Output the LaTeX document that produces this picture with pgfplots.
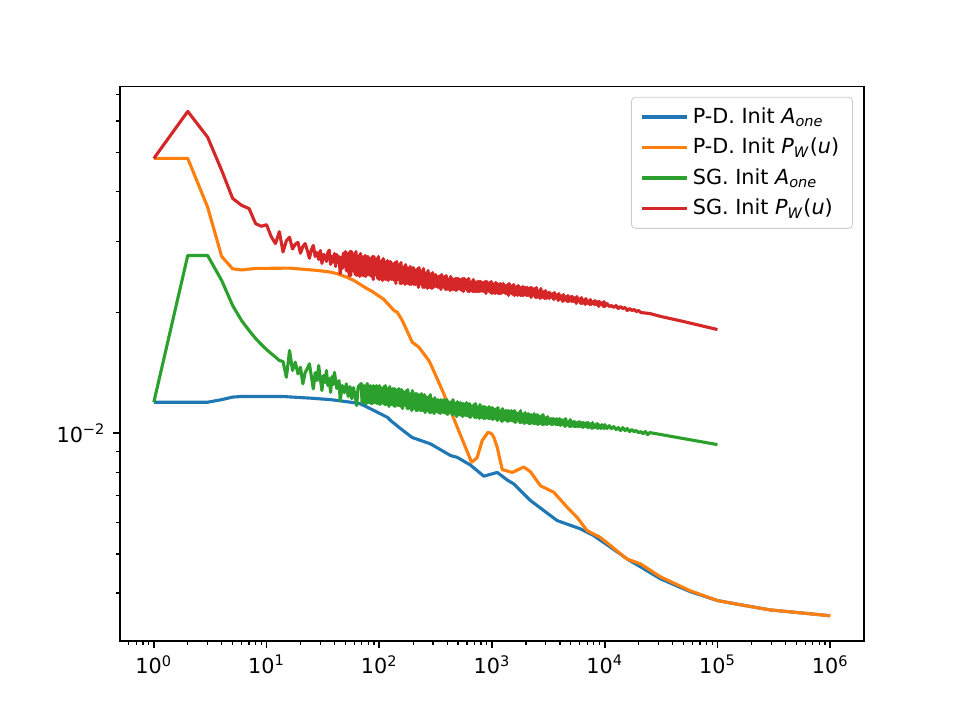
\documentclass[border=0pt]{standalone}
\usepackage{fontspec}
\setmainfont{DejaVu Sans}
\usepackage{pgfplots}
\usepackage{pgfplotstable}
\pgfplotsset{compat=1.18}

\definecolor{tabblue}{HTML}{1F77B4}
\definecolor{taborange}{HTML}{FF7F0E}
\definecolor{tabgreen}{HTML}{2CA02C}
\definecolor{tabred}{HTML}{D62728}

% P-D. initialised with A_one
\pgfplotstableread{
x y
1 0.01195
2 0.01195
3 0.01195
4 0.01213
5 0.01231
6 0.01235
9 0.01235
14 0.01235
25 0.01223
37 0.01213
56 0.01195
68 0.01184
84 0.01150
118 0.01096
126 0.01076
154.5 0.010274
196 0.00976
285 0.00941
429 0.00880
492 0.00871
645 0.00833
846 0.00782
1112 0.00799
1365 0.00765
1561 0.00748
2193 0.00680
3784 0.00606
6081 0.00578
7980 0.00556
13770 0.00500
15780 0.00486
20700 0.00465
31120 0.00434
57410 0.00403
100000 0.00383
158500 0.00374
293800 0.00363
542000 0.00357
1000000 0.00351
}\pdaone

% P-D. initialised with P_W(u)
\pgfplotstableread{
x y
1 0.04842
2 0.04842
3 0.03662
4 0.02758
5 0.02570
6 0.02553
8 0.02575
16 0.02580
28.2 0.02546
37 0.02521
42.5 0.02498
52.1 0.02445
59.6 0.02403
78.3 0.02291
84 0.02269
103 0.02183
110 0.02155
135 0.02023
144.5 0.02003
160 0.01910
196 0.01687
224.6 0.01639
275 0.01518
285 0.01490
374 0.01254
492 0.01035
597 0.00906
658 0.00847
706 0.00860
739 0.00871
818 0.00959
922 0.01006
990 0.00998
1038 0.00977
1112 0.00923
1232 0.00812
1511 0.00799
1914 0.00824
2193 0.00802
2692 0.00740
3532 0.00713
4643 0.00654
5690 0.00617
6982 0.00572
9160 0.00550
15780 0.00486
20700 0.00473
31120 0.00439
57410 0.00405
100000 0.00383
158500 0.00374
293800 0.00363
542000 0.00357
1000000 0.00351
}\pdpw

% SG. initialised with A_one
\pgfplotstableread{
x y
1 0.01195
2 0.02774
3 0.02774
4 0.02403
5 0.02082
6 0.01910
7 0.01804
8 0.01723
9 0.01664
10 0.01617
11 0.01580
12 0.01549
13 0.01518
14 0.01510
15 0.01379
16 0.01608
17 0.01434
18 0.01504
19 0.01406
20 0.01461
21 0.01328
22 0.01417
23 0.01450
24 0.01490
25 0.01385
26 0.01290
27 0.01417
28 0.01353
29 0.01475
30 0.01369
31 0.01278
32 0.01393
33 0.01338
34 0.01434
35 0.01315
36 0.01369
37 0.01265
38 0.01385
39 0.01323
40 0.01419
42 0.01293
44 0.01353
45 0.01206
47 0.01315
49 0.01263
51 0.01328
53 0.01235
55 0.01307
57 0.01220
59 0.01300
61 0.01242
63 0.01172
65 0.01307
69.2 0.013303
70.3 0.011928
71.3 0.013151
72.4 0.011928
73.6 0.013151
74.7 0.011860
75.9 0.013076
77.1 0.011860
78.2 0.013303
79.4 0.011928
80.7 0.013001
81.9 0.011928
83.2 0.013151
84.5 0.011860
85.8 0.013076
87.1 0.011860
88.5 0.013151
89.8 0.011928
91.2 0.013001
92.6 0.011928
94.1 0.013151
95.5 0.011860
97.0 0.013076
98.5 0.011860
100 0.013151
101.7 0.011792
103.3 0.013001
105 0.011928
106.7 0.012926
108.3 0.011860
110 0.013076
111.7 0.011792
113.3 0.013151
115 0.011792
116.7 0.012926
118.3 0.011928
120 0.012926
122 0.011657
124 0.013076
126 0.011792
128 0.012706
130 0.011792
132 0.012926
134 0.011724
136 0.012926
138 0.011657
140.3 0.012852
142.7 0.011792
145 0.012706
147 0.011724
149 0.012926
151 0.011724
153.3 0.012779
155.7 0.011657
158 0.012852
160.7 0.011524
163.3 0.012706
166 0.011724
168.7 0.012561
171.3 0.011724
174 0.012779
176.7 0.011524
179.3 0.012852
182 0.011524
185 0.012561
188 0.011724
191 0.012561
194 0.011392
197 0.012779
200 0.011524
203 0.012346
206 0.011524
209 0.012561
212.3 0.011392
215.7 0.012561
219 0.011392
222.3 0.012489
225.7 0.011524
229 0.012346
232.7 0.011392
236.3 0.012561
240 0.011392
243.7 0.012346
247.3 0.011392
251 0.012489
255 0.011262
259 0.012346
263 0.011392
267 0.012135
271 0.011392
275 0.012346
279.3 0.011262
283.7 0.012489
288 0.011262
292.7 0.012205
297.3 0.011392
302 0.012066
306.7 0.011198
311.3 0.012275
316 0.011327
321 0.011997
326 0.011327
331 0.012135
336.3 0.011262
341.7 0.012066
347 0.011198
352.3 0.012135
357.7 0.011327
363 0.011997
368.7 0.011262
374.3 0.012135
380 0.011262
386 0.011997
392 0.011198
398 0.012135
404.3 0.011133
410.7 0.011997
417 0.011262
423.7 0.011860
430.3 0.011262
437 0.011997
443.7 0.011133
450.3 0.012135
457 0.011133
464.3 0.011928
471.7 0.011262
479 0.011860
486.3 0.011006
493.7 0.011997
501 0.011133
509 0.011724
517 0.011133
525 0.011928
533.3 0.011070
541.7 0.011860
550 0.011006
558.3 0.011860
566.7 0.011133
575 0.011724
584.3 0.011070
593.7 0.011928
603 0.011070
612.3 0.011792
621.7 0.011006
631 0.011860
641 0.010943
651 0.011724
661 0.011070
671.3 0.011657
681.7 0.011070
692 0.011792
702.7 0.010943
713.3 0.011860
724 0.010943
735.7 0.011657
747.3 0.011070
759 0.011657
770.7 0.010881
782.3 0.011792
794 0.010943
806.7 0.011524
819.3 0.010943
832 0.011657
845 0.010881
858 0.011657
871 0.010881
884.7 0.011591
898.3 0.010943
912 0.011524
926.3 0.010881
940.7 0.011657
955 0.010881
970 0.011524
985 0.010881
1000 0.011591
1016 0.010818
1031 0.011524
1047 0.010881
1063 0.011392
1080 0.010881
1096 0.011524
1113 0.010757
1131 0.011591
1148 0.010818
1166 0.011392
1184 0.010881
1202 0.011392
1221 0.010695
1240 0.011524
1259 0.010757
1279 0.011262
1298 0.010818
1318 0.011392
1339 0.010757
1359 0.011392
1380 0.010695
1402 0.011392
1423 0.010757
1445 0.011262
1468 0.010757
1491 0.011392
1514 0.010757
1538 0.011262
1561 0.010695
1585 0.011392
1610 0.010634
1635 0.011262
1660 0.010757
1686 0.011133
1712 0.010757
1738 0.011262
1765 0.010634
1793 0.011392
1820 0.010634
1848 0.011198
1877 0.010757
1905 0.011133
1935 0.010573
1965 0.011262
1995 0.010634
2026 0.011070
2058 0.010634
2089 0.011198
2122 0.010573
2155 0.011133
2188 0.010573
2222 0.011133
2257 0.010634
2291 0.011070
2327 0.010573
2363 0.011198
2399 0.010573
2437 0.011070
2474 0.010573
2512 0.011133
2551 0.010513
2591 0.011070
2630 0.010573
2671 0.010943
2713 0.010573
2754 0.011070
2797 0.010513
2841 0.011133
2884 0.010513
2929 0.010943
2975 0.010573
3020 0.010943
3067 0.010513
3115 0.011006
3162 0.010573
3212 0.010818
3261 0.010573
3311 0.010881
3363 0.010513
3415 0.010881
3467 0.010513
3522 0.010881
3576 0.010573
3631 0.010818
3688 0.010513
3745 0.010881
3802 0.010513
3862 0.010818
3921 0.010513
3981 0.010881
4044 0.010452
4106 0.010818
4169 0.010513
4234 0.010695
4300 0.010513
4365 0.010818
4434 0.010393
4502 0.010881
4571 0.010452
4643 0.010695
4714 0.010513
4786 0.010695
4861 0.010393
4937 0.010818
5012 0.010393
5091 0.010634
5169 0.010452
5248 0.010695
5330 0.010393
5413 0.010695
5495 0.010393
5581 0.010634
5668 0.010393
5754 0.010634
5845 0.010393
5935 0.010695
6026 0.010393
6121 0.010634
6215 0.010393
6310 0.010634
6409 0.010333
6508 0.010634
6607 0.010393
6711 0.010573
6814 0.010393
6918 0.010634
7027 0.010333
7135 0.010634
7244 0.010333
7358 0.010513
7472 0.010393
7586 0.010573
7705 0.010274
7824 0.010634
7943 0.010333
8068 0.010452
8193 0.010333
8318 0.010513
8449 0.010333
8579 0.010573
8710 0.010274
8847 0.010513
8983 0.010333
9120 0.010452
9263 0.010274
9407 0.010513
9550 0.010333
9700 0.010452
9850 0.010274
10000 0.010513
10470 0.010274
10960 0.010452
11480 0.010274
12020 0.010393
12590 0.010215
13180 0.010333
13800 0.010156
14450 0.010333
15140 0.010156
15850 0.010274
16600 0.010098
17380 0.010215
18200 0.010098
19050 0.010156
19950 0.010040
20890 0.010098
21880 0.009983
22910 0.010098
23990 0.009926
25120 0.010040
39810 0.009812
63100 0.009589
100000 0.009371
}\sgaone

% SG. initialised with P_W(u)
\pgfplotstableread{
x y
1 0.0484
2 0.0634
3 0.0547
4 0.0452
5 0.0385
6 0.0370
7 0.0363
8 0.0333
9 0.0328
10 0.0331
11 0.0309
12 0.0297
13 0.0318
14 0.0283
15 0.0302
16 0.0308
17 0.0288
18 0.0296
19 0.0299
20 0.0281
21 0.0292
22 0.0297
23 0.02855
24 0.0273
25 0.0287
26 0.0294
27 0.02758
28 0.02822
29 0.02711
30 0.02855
31 0.0265
32 0.0279
33 0.0277
34 0.0268
35 0.02822
36 0.0286
37 0.02635
38 0.02758
39 0.0267
40 0.02806
41 0.02604
42 0.0279
43 0.02665
44 0.02758
45 0.0250
46 0.02743
47 0.02575
48 0.0281
49 0.02604
50.1 0.028387
50.9 0.025453
51.7 0.028062
52.5 0.025307
53.3 0.028062
54.2 0.024733
55.0 0.028387
55.8 0.024733
56.7 0.028387
57.5 0.025453
58.4 0.027742
59.4 0.025307
60.3 0.028062
61.2 0.024875
62.2 0.028387
63.1 0.024733
64.1 0.027268
65.1 0.025453
66.1 0.027742
67.1 0.024591
68.2 0.028062
69.2 0.024875
70.3 0.027583
71.3 0.024733
72.4 0.027268
73.6 0.024733
74.7 0.027742
75.9 0.024591
77.1 0.027583
78.2 0.024875
79.4 0.027583
80.7 0.024875
81.9 0.027268
83.2 0.024733
84.5 0.027268
85.8 0.024591
87.1 0.027583
88.5 0.024171
89.8 0.027583
91.2 0.024875
92.6 0.026957
94.1 0.024733
95.5 0.027268
97.0 0.024310
98.5 0.027583
100 0.024171
101.7 0.026497
103.3 0.024875
105 0.026957
106.7 0.024032
108.3 0.027268
110 0.024310
111.7 0.026803
113.3 0.024171
115 0.026497
116.7 0.024171
118.3 0.026957
120 0.024032
122 0.026649
124 0.024310
126 0.026803
128 0.024171
130 0.026497
132 0.024171
134 0.026345
136 0.024032
138 0.026649
140.3 0.023621
142.7 0.026803
145 0.024171
147 0.026044
149 0.024171
151 0.026345
153.3 0.023621
155.7 0.026649
158 0.023621
160.7 0.025599
163.3 0.024171
166 0.026044
168.7 0.023486
171.3 0.026345
174 0.023621
176.7 0.025895
179.3 0.023621
182 0.025599
185 0.023486
188 0.026044
191 0.023486
194 0.025746
197 0.023621
200 0.025895
203 0.023486
206 0.025599
209 0.023486
212.3 0.025453
215.7 0.023486
219 0.025746
222.3 0.023085
225.7 0.025895
229 0.023486
232.7 0.025162
236.3 0.023486
240 0.025453
243.7 0.023085
247.3 0.025746
251 0.023085
255 0.024733
259 0.023486
263 0.025162
267 0.022953
271 0.025453
275 0.023085
279.3 0.025018
283.7 0.023085
288 0.024733
292.7 0.022953
297.3 0.025162
302 0.023085
306.7 0.024733
311.3 0.023218
316 0.024875
321 0.023218
326 0.024591
331 0.023085
336.3 0.024591
341.7 0.023085
347 0.024733
352.3 0.022822
357.7 0.024875
363 0.023218
368.7 0.024310
374.3 0.023085
380 0.024591
386 0.022822
392 0.024733
398 0.022822
404.3 0.024171
410.7 0.023218
417 0.024310
423.7 0.022690
430.3 0.024591
437 0.022822
443.7 0.024310
450.3 0.022822
457 0.024171
464.3 0.022822
471.7 0.024310
479 0.022690
486.3 0.024310
493.7 0.022822
501 0.024310
509 0.022953
517 0.024171
525 0.022822
533.3 0.024171
541.7 0.022690
550 0.024310
558.3 0.022560
566.7 0.024310
575 0.022953
584.3 0.023894
593.7 0.022822
603 0.024171
612.3 0.022560
621.7 0.024310
631 0.022560
641 0.023757
651 0.022953
661 0.023894
671.3 0.022560
681.7 0.024171
692 0.022560
702.7 0.023894
713.3 0.022560
724 0.023757
735.7 0.022560
747.3 0.023894
759 0.022560
770.7 0.023894
782.3 0.022560
794 0.023894
806.7 0.022690
819.3 0.023757
832 0.022560
845 0.023757
858 0.022560
871 0.023894
884.7 0.022302
898.3 0.023894
912 0.022690
926.3 0.023621
940.7 0.022560
955 0.023757
970 0.022431
985 0.023894
1000 0.022302
1016 0.023352
1031 0.022690
1047 0.023621
1063 0.022302
1080 0.023757
1096 0.022431
1113 0.023621
1131 0.022302
1148 0.023352
1166 0.022302
1184 0.023621
1202 0.022302
1221 0.023486
1240 0.022431
1259 0.023621
1279 0.022431
1298 0.023352
1318 0.022302
1339 0.023352
1359 0.022302
1380 0.023486
1402 0.022048
1423 0.023621
1445 0.022431
1468 0.023218
1491 0.022302
1514 0.023352
1538 0.022175
1561 0.023486
1585 0.022048
1610 0.023085
1635 0.022431
1660 0.023218
1686 0.022048
1712 0.023352
1738 0.022175
1765 0.023085
1793 0.022048
1820 0.023085
1848 0.022048
1877 0.023218
1905 0.022048
1935 0.023085
1965 0.022175
1995 0.023085
2026 0.022048
2058 0.023085
2089 0.022048
2122 0.022953
2155 0.022048
2188 0.023085
2222 0.021796
2257 0.023085
2291 0.022048
2327 0.022690
2363 0.022048
2399 0.022953
2437 0.021796
2474 0.023085
2512 0.021796
2551 0.022560
2591 0.022048
2630 0.022690
2671 0.021671
2713 0.022953
2754 0.021796
2797 0.022560
2841 0.021796
2884 0.022560
2929 0.021671
2975 0.022690
3020 0.021671
3067 0.022302
3115 0.021921
3162 0.022431
3212 0.021671
3261 0.022431
3311 0.021796
3363 0.022175
3415 0.021796
3467 0.022302
3522 0.021547
3576 0.022431
3631 0.021671
3688 0.022048
3745 0.021796
3802 0.022175
3862 0.021424
3921 0.022302
3981 0.021547
4044 0.021921
4106 0.021671
4169 0.022048
4234 0.021301
4300 0.022175
4365 0.021424
4434 0.021921
4502 0.021547
4571 0.021921
4643 0.021301
4714 0.022048
4786 0.021301
4861 0.021796
4937 0.021424
5012 0.021921
5091 0.021301
5169 0.021921
5248 0.021301
5330 0.021671
5413 0.021301
5495 0.021796
5581 0.021058
5668 0.021921
5754 0.021301
5845 0.021547
5935 0.021301
6026 0.021671
6121 0.021058
6215 0.021796
6310 0.021058
6409 0.021424
6508 0.021301
6607 0.021547
6711 0.020937
6814 0.021671
6918 0.021058
7027 0.021301
7135 0.021058
7244 0.021424
7358 0.020937
7472 0.021547
7586 0.020937
7705 0.021301
7824 0.021058
7943 0.021301
8068 0.020937
8193 0.021424
8318 0.020937
8449 0.021179
8579 0.020937
8710 0.021301
8847 0.020698
8983 0.021301
9120 0.020937
9263 0.021058
9407 0.020937
9550 0.021179
9700 0.020698
9850 0.021301
10000 0.020698
10470 0.021058
10960 0.020698
11480 0.020817
12020 0.020580
12590 0.020817
13180 0.020462
13800 0.020698
14450 0.020462
15140 0.020580
15850 0.020230
16600 0.020462
17380 0.020230
18200 0.020345
19050 0.020114
19950 0.020230
20890 0.019999
25120 0.019884
31620 0.019545
38020 0.019322
50120 0.018991
70790 0.018559
100000 0.018138
}\sgpw

\begin{document}
\begin{tikzpicture}
\path[use as bounding box] (-0.8in,-0.528in) rectangle (5.6in,4.272in);
\begin{axis}[
  at={(0,0)}, anchor=south west,
  scale only axis,
  width=4.96in, height=3.696in,
  xmode=log, ymode=log,
  xmin=0.5012, xmax=1.995e6,
  ymin=0.00304, ymax=0.0732,
  axis line style={line width=0.8pt},
  tick align=outside, tick pos=left,
  major tick length=3.5pt, minor tick length=2pt,
  major tick style={line width=0.8pt, black},
  minor tick style={line width=0.6pt, black},
  xtick={1,10,100,1000,10000,100000,1000000},
  xticklabels={10\textsuperscript{0},10\textsuperscript{1},10\textsuperscript{2},10\textsuperscript{3},10\textsuperscript{4},10\textsuperscript{5},10\textsuperscript{6}},
  minor xtick={0.6,0.7,0.8,0.9,2,3,4,5,6,7,8,9,20,30,40,50,60,70,80,90,200,300,400,500,600,700,800,900,2000,3000,4000,5000,6000,7000,8000,9000,20000,30000,40000,50000,60000,70000,80000,90000,200000,300000,400000,500000,600000,700000,800000,900000},
  ytick={0.01},
  yticklabels={10\textsuperscript{−2}},
  minor ytick={0.004,0.005,0.006,0.007,0.008,0.009,0.02,0.03,0.04,0.05,0.06,0.07},
  tick label style={font=\fontsize{10}{12}\selectfont},
  legend cell align=left,
  legend style={at={(1,1)}, xshift=-5.3pt, yshift=-5pt, anchor=north east,
    draw=black!20, rounded corners=2pt, fill=white, fill opacity=0.8, text opacity=1,
    font=\fontsize{10}{12}\selectfont, row sep=1.6pt, inner xsep=4.5pt, inner ysep=3pt},
  legend image code/.code={\draw[#1] (0cm,0cm) -- (0.76cm,0cm);},
  every axis plot/.append style={line width=1.5pt, line join=round},
]
\addplot[tabblue] table {\pdaone};
\addlegendentry{P-D. Init \textit{A}\textsubscript{\textit{one}}}
\addplot[taborange] table {\pdpw};
\addlegendentry{P-D. Init \textit{P}\textsubscript{\textit{W}}(\textit{u})}
\addplot[tabgreen] table {\sgaone};
\addlegendentry{SG. Init \textit{A}\textsubscript{\textit{one}}}
\addplot[tabred] table {\sgpw};
\addlegendentry{SG. Init \textit{P}\textsubscript{\textit{W}}(\textit{u})}
\end{axis}
\end{tikzpicture}
\end{document}
